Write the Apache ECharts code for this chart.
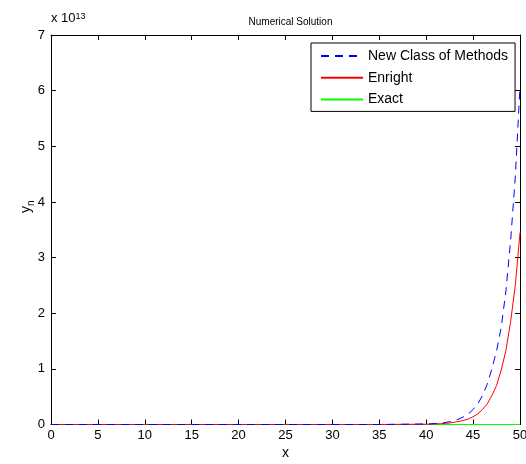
<!DOCTYPE html>
<html>
<head>
<meta charset="utf-8">
<script src="https://cdn.jsdelivr.net/npm/echarts@6/dist/echarts.min.js"></script>
<style>html,body{margin:0;padding:0;background:#fff}#c{width:526px;height:464px}</style>
</head>
<body>
<div id="c"></div>
<script>
// x positions
var xs = [0, 5, 10, 15, 20, 25, 30, 35, 40, 40.5, 41, 41.5, 42, 42.5, 43, 43.5, 44, 44.5, 45, 45.5, 46, 46.5, 47, 47.5, 48, 48.5, 49, 49.5, 50];
// values in units of 1e13
var newClass = [0, 0, 0, 0, 0, 0, 0, 0, 0.01, 0.013, 0.018, 0.025, 0.035, 0.05, 0.07, 0.1, 0.14, 0.19, 0.27, 0.37, 0.52, 0.72, 1.0, 1.32, 1.75, 2.4, 3.3, 4.45, 6.08];
var enright  = [0, 0, 0, 0, 0, 0, 0, 0, 0.005, 0.007, 0.01, 0.014, 0.02, 0.027, 0.04, 0.055, 0.075, 0.1, 0.14, 0.19, 0.27, 0.37, 0.52, 0.7, 0.98, 1.33, 1.85, 2.5, 3.45];
var exact    = [0, 0, 0, 0, 0, 0, 0, 0, 0, 0, 0, 0, 0, 0, 0, 0, 0, 0, 0, 0, 0, 0, 0, 0, 0, 0, 0, 0, 0];
var seriesNames = ['New Class of Methods', 'Enright', 'Exact'];
var xTicks = [0, 5, 10, 15, 20, 25, 30, 35, 40, 45, 50];
var yTicks = [0, 1, 2, 3, 4, 5, 6, 7];

function pairs(v) { return xs.map(function (x, i) { return [x, v[i]]; }); }

var font = "'Liberation Sans', Arial, sans-serif";
var chart = echarts.init(document.getElementById('c'));

function mkAxis(min, max, interval, position, showLabel, extra) {
  var a = {
    type: 'value', min: min, max: max, interval: interval, position: position,
    axisLine: { show: true, onZero: false, lineStyle: { color: '#000', width: 1 } },
    axisTick: { show: true, inside: true, length: 5, lineStyle: { color: '#000', width: 1 } },
    splitLine: { show: false },
    axisLabel: showLabel ? { show: true, color: '#000', fontSize: 13, fontFamily: font, margin: position === 'bottom' ? 4 : 6 } : { show: false }
  };
  return Object.assign(a, extra || {});
}

chart.setOption({
  animation: false,
  backgroundColor: '#fff',
  title: {
    text: 'Numerical Solution', left: 285.5, top: 12, textAlign: 'center',
    textStyle: { fontSize: 10, fontWeight: 'normal', color: '#000', fontFamily: font }
  },
  grid: { left: 51, right: 6, top: 35, bottom: 39.5, outerBoundsMode: 'none', containLabel: false },
  legend: {
    orient: 'vertical', left: 311, top: 43,
    data: seriesNames,
    itemWidth: 42, itemHeight: 14, itemGap: 7.7,
    padding: [6, 7, 5, 9],
    backgroundColor: '#fff', borderColor: '#000', borderWidth: 1, borderRadius: 0,
    itemStyle: { opacity: 0 },
    textStyle: { fontSize: 14, color: '#000', fontFamily: font }
  },
  xAxis: [
    mkAxis(0, 50, 5, 'bottom', true, {
      name: 'x', nameLocation: 'middle', nameGap: 22,
      nameTextStyle: { color: '#000', fontSize: 14, fontFamily: font }
    }),
    mkAxis(0, 50, 5, 'top', false)
  ],
  yAxis: [
    mkAxis(0, 7, 1, 'left', true),
    mkAxis(0, 7, 1, 'right', false)
  ],
  graphic: [
    {
      type: 'text', left: 51, top: 12,
      style: {
        text: '{a|x 10}{b|13}', fontFamily: font,
        rich: {
          a: { fontSize: 13, fill: '#000', fontFamily: font, verticalAlign: 'bottom' },
          b: { fontSize: 9, fill: '#000', fontFamily: font, verticalAlign: 'top' }
        }
      }
    },
    {
      type: 'text', x: 19, y: 213, rotation: Math.PI / 2,
      style: {
        text: '{a|y}{b|n}', fontFamily: font,
        rich: {
          a: { fontSize: 14, fill: '#000', fontFamily: font, verticalAlign: 'top' },
          b: { fontSize: 10, fill: '#000', fontFamily: font, verticalAlign: 'bottom', padding: [7, 0, 0, 0] }
        }
      }
    }
  ],
  series: [
    { name: seriesNames[0], type: 'line', data: pairs(newClass), showSymbol: false, symbol: 'none', z: 4,
      lineStyle: { color: '#0000ff', width: 1, type: [8, 6] }, itemStyle: { color: '#0000ff' } },
    { name: seriesNames[1], type: 'line', data: pairs(enright), showSymbol: false, symbol: 'none', z: 3,
      lineStyle: { color: '#ff0000', width: 1 }, itemStyle: { color: '#ff0000' } },
    { name: seriesNames[2], type: 'line', data: pairs(exact), showSymbol: false, symbol: 'none', z: 2,
      lineStyle: { color: '#00ff00', width: 1.2 }, itemStyle: { color: '#00ff00' } }
  ]
});
</script>
</body>
</html>
